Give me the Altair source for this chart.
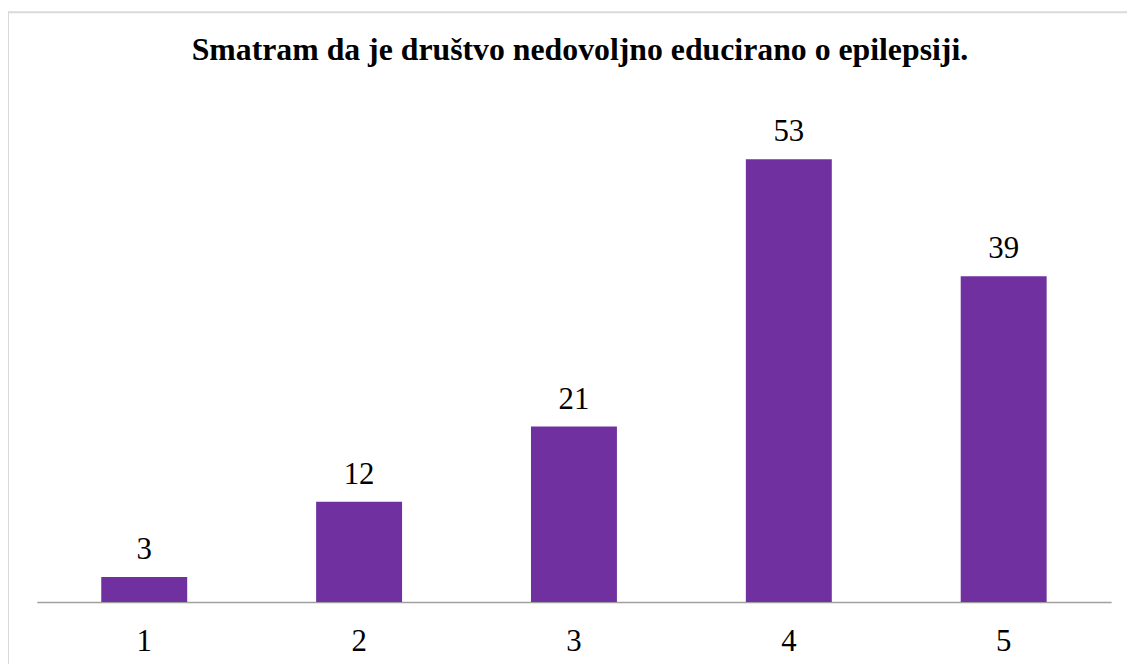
import altair as alt
import pandas as pd

categories = ["1", "2", "3", "4", "5"]
values = [3, 12, 21, 53, 39]
title_text = "Smatram da je društvo nedovoljno educirano o epilepsiji."

df = pd.DataFrame({"cat": categories, "val": values})

W = 1082
H = 505
FONT = "Liberation Serif"

base = alt.Chart(df)

x_enc = alt.X("cat:N", sort=categories, title=None,
              scale=alt.Scale(paddingInner=0.6, paddingOuter=0.3),
              axis=alt.Axis(labelAngle=0, ticks=False, tickSize=0, labelPadding=49,
                            labelBaseline="alphabetic", labelFont=FONT, labelFontSize=31,
                            labelColor="#000000", domainColor="#a0a0a0", domainWidth=1.5,
                            grid=False))
y_enc = alt.Y("val:Q", title=None, scale=alt.Scale(domain=[0, 60]), axis=None)

bars = base.mark_bar(color="#7030A0").encode(x=x_enc, y=y_enc)
labels = base.mark_text(font=FONT, fontSize=31, color="#000000", baseline="alphabetic", dy=-18).encode(
    x=alt.X("cat:N", sort=categories), y=alt.Y("val:Q"), text="val:Q")

frame = alt.Chart(pd.DataFrame({"a": [0]})).mark_rect(fill=None, stroke="#d9d9d9", strokeWidth=2).encode(
    x=alt.value(-29), x2=alt.value(W + 40), y=alt.value(-89), y2=alt.value(H + 100))

chart = alt.layer(frame, bars, labels).properties(
    width=W, height=H,
    title=alt.TitleParams(title_text, font=FONT, fontSize=32, fontWeight="bold", color="#000000",
                          anchor="middle", baseline="alphabetic", offset=-81, dx=6, frame="group"),
    autosize=alt.AutoSizeParams(type="none"),
    padding={"left": 29, "top": 91, "right": 16, "bottom": 60},
).configure(background="white").configure_view(strokeWidth=0, stroke="transparent")

chart.save("out.html", embed_options={"renderer": "svg", "actions": False})
